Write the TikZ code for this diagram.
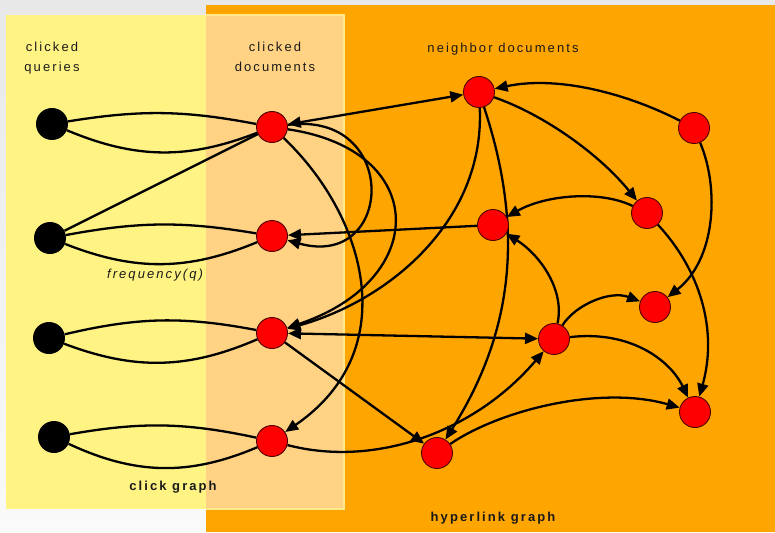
\documentclass[tikz,border=0pt]{standalone}
\usepackage{fontspec}
\setmainfont{Liberation Sans}
\newfontfamily\spaced[LetterSpace=16]{Liberation Sans}
\usetikzlibrary{arrows.meta}
\definecolor{orangeC}{HTML}{FFA500}
\definecolor{yellowC}{HTML}{FFF384}
\definecolor{overlapC}{HTML}{FFD284}
\definecolor{borderC}{HTML}{FFE98C}
\definecolor{txtC}{HTML}{1A1A1A}
\pgfdeclarelayer{bg}
\pgfdeclarelayer{edges}
\pgfsetlayers{bg,edges,main}
\begin{document}
\begin{tikzpicture}[x=1pt,y=-1pt,
  qnode/.style={circle,fill=black,minimum size=32pt,inner sep=0pt},
  dnode/.style={circle,fill=red,draw=black!70!red,line width=0.9pt,minimum size=31pt,inner sep=0pt},
  clickedge/.style={line width=2.3pt},
  link/.style={line width=2.3pt,-{Triangle[length=13pt,width=11pt]}},
  biglink/.style={line width=2.3pt,{Triangle[length=13pt,width=11pt]}-{Triangle[length=13pt,width=11pt]}},
  lbl/.style={font=\spaced\fontsize{13}{15}\selectfont,text=txtC,anchor=base},
  blbl/.style={font=\spaced\bfseries\fontsize{13}{15}\selectfont,text=txtC,anchor=base},
  ilbl/.style={font=\spaced\itshape\fontsize{13}{15}\selectfont,text=txtC,anchor=base}]
\useasboundingbox (0,0) rectangle (775,532);
\begin{pgfonlayer}{bg}
  \shade[top color=black!9, bottom color=black!2] (0,0) rectangle (775,532);
  \fill[orangeC] (206,5) rectangle (775,532);
  \fill[yellowC] (6,15) rectangle (206,509);
  \fill[overlapC] (206,15) rectangle (344,509);
  \draw[borderC,line width=2pt] (206,15) -- (344,15) -- (344,509) -- (206,509);
\end{pgfonlayer}

% labels
\node[lbl] (t1) at (52,52) {clicked};
\node[lbl] (t2) at (52,72) {queries};
\node[lbl] (t3) at (275,52) {clicked};
\node[lbl] (t4) at (275,72) {documents};
\node[lbl] (t5) at (503,53) {neighbor documents};
\node[ilbl] (t6) at (155,278) {frequency(q)};
\node[blbl] (t7) at (173,490) {click graph};
\node[blbl] (t8) at (493,521) {hyperlink graph};

% query nodes
\node[qnode] (q1) at (52,124) {};
\node[qnode] (q2) at (50,238) {};
\node[qnode] (q3) at (49,338) {};
\node[qnode] (q4) at (54,437) {};
% clicked documents
\node[dnode] (c1) at (272,127) {};
\node[dnode] (c2) at (272,236) {};
\node[dnode] (c3) at (272,333) {};
\node[dnode] (c4) at (272,441) {};
% neighbor documents
\node[dnode] (n1) at (479,92) {};
\node[dnode] (n2) at (694,128) {};
\node[dnode] (n3) at (493,225) {};
\node[dnode] (n4) at (647,213) {};
\node[dnode] (n5) at (554,339) {};
\node[dnode] (n6) at (655,307) {};
\node[dnode] (n7) at (695,412) {};
\node[dnode] (n8) at (437,453) {};

\begin{pgfonlayer}{edges}
  % click graph
  \draw[clickedge] (q1) to[bend left=10] (c1);
  \draw[clickedge] (q1) to[bend right=22] (c1);
  \draw[clickedge] (q2) -- (c1);
  \draw[clickedge] (q2) to[bend left=10] (c2);
  \draw[clickedge] (q2) to[bend right=22] (c2);
  \draw[clickedge] (q3) to[bend left=12] (c3);
  \draw[clickedge] (q3) to[bend right=22] (c3);
  \draw[clickedge] (q4) to[bend left=11] (c4);
  \draw[clickedge] (q4) to[bend right=24] (c4);
  % hyperlink graph
  \draw[biglink] (c1) -- (n1);
  \draw[link] (c1) .. controls (400,110) and (395,270) .. (c2);
  \draw[link] (c1) .. controls (430,150) and (430,280) .. (c3);
  \draw[link] (c1) .. controls (365,215) and (405,350) .. (c4);
  \draw[link] (n1) .. controls (485,220) and (390,300) .. (c3);
  \draw[link] (n1) .. controls (528,240) and (508,340) .. (n8);
  \draw[link] (n2) .. controls (630,95) and (560,75) .. (n1);
  \draw[link] (n1) .. controls (545,115) and (600,155) .. (n4);
  \draw[link] (n2) .. controls (720,190) and (715,260) .. (n6);
  \draw[link] (n4) .. controls (600,190) and (545,195) .. (n3);
  \draw[link] (n4) .. controls (700,270) and (718,330) .. (n7);
  \draw[link] (n3) -- (c2);
  \draw[link] (n5) .. controls (565,290) and (540,255) .. (n3);
  \draw[link] (n5) .. controls (575,305) and (610,290) .. (n6);
  \draw[link] (n5) .. controls (630,330) and (670,360) .. (n7);
  \draw[biglink] (c3) -- (n5);
  \draw[link] (c3) -- (n8);
  \draw[link] (c4) .. controls (375,468) and (475,432) .. (n5);
  \draw[link] (n8) .. controls (500,410) and (600,385) .. (n7);
\end{pgfonlayer}
\end{tikzpicture}
\end{document}
